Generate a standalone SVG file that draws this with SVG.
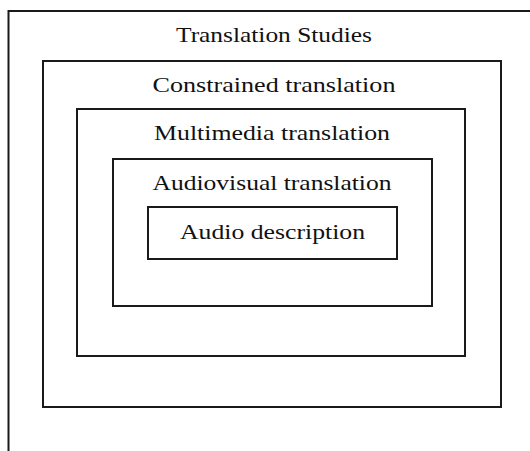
<svg xmlns="http://www.w3.org/2000/svg" width="530" height="451" viewBox="0 0 530 451">
<style>
.box{fill:none;stroke:#1a1a1a;stroke-width:2}
.lbl{font-family:"Liberation Serif","Times New Roman",serif;font-size:21px;fill:#111;text-anchor:middle}
</style>
<rect width="530" height="451" fill="#fff"/>
<g id="translation-studies">
<path class="box" d="M8.5,451 V11 H530"/>
<text class="lbl" x="274" y="42" textLength="196" lengthAdjust="spacingAndGlyphs">Translation Studies</text>
</g>
<g id="constrained-translation">
<rect class="box" x="43" y="61" width="458" height="346"/>
<text class="lbl" x="274" y="92" textLength="243" lengthAdjust="spacingAndGlyphs">Constrained translation</text>
</g>
<g id="multimedia-translation">
<rect class="box" x="77" y="109" width="388" height="247"/>
<text class="lbl" x="272" y="140" textLength="236" lengthAdjust="spacingAndGlyphs">Multimedia translation</text>
</g>
<g id="audiovisual-translation">
<rect class="box" x="113" y="159" width="319" height="147"/>
<text class="lbl" x="272" y="190" textLength="239" lengthAdjust="spacingAndGlyphs">Audiovisual translation</text>
</g>
<g id="audio-description">
<rect class="box" x="148" y="207" width="249" height="52"/>
<text class="lbl" x="272.5" y="239" textLength="185" lengthAdjust="spacingAndGlyphs">Audio description</text>
</g>
</svg>
